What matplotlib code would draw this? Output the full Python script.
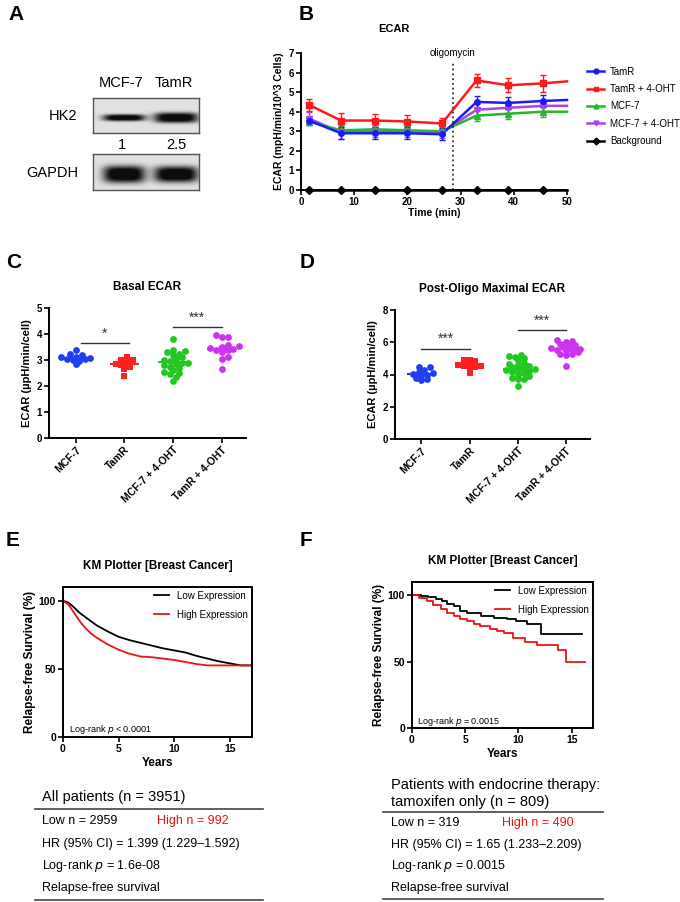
# multi-panel figure: blot, ECAR time course, ECAR scatter, KM curves
import numpy as np
import matplotlib.pyplot as plt
from matplotlib.lines import Line2D

plt.rcParams['font.family'] = ['Liberation Sans', 'DejaVu Sans']

W, H = 680, 902

# ---- A: western blot
blot_lanes = ['MCF-7', 'TamR']
hk2_quant = [1, 2.5]

# ---- B: ECAR time course
time_min = [1.5, 7.5, 14, 20, 26.5, 33, 39, 45.5]
ecar_tamr = [3.55, 2.9, 2.9, 2.9, 2.85, 4.5, 4.45, 4.55]
ecar_tamr_err = [0.15, 0.3, 0.3, 0.3, 0.3, 0.3, 0.3, 0.3]
ecar_tamr_oht = [4.35, 3.55, 3.55, 3.5, 3.4, 5.6, 5.35, 5.45]
ecar_tamr_oht_err = [0.3, 0.4, 0.35, 0.35, 0.3, 0.35, 0.35, 0.45]
ecar_mcf7 = [3.5, 3.05, 3.1, 3.05, 3.0, 3.8, 3.9, 4.0]
ecar_mcf7_err = [0.2, 0.2, 0.2, 0.2, 0.2, 0.25, 0.25, 0.25]
ecar_mcf7_oht = [3.65, 2.95, 3.0, 3.0, 2.95, 4.1, 4.2, 4.3]
ecar_mcf7_oht_err = [0.35, 0.35, 0.3, 0.3, 0.3, 0.3, 0.3, 0.3]
ecar_bg = [0, 0, 0, 0, 0, 0, 0, 0]
ecar_end = {'TamR': 4.6, 'TamR + 4-OHT': 5.55, 'MCF-7': 4.0, 'MCF-7 + 4-OHT': 4.3, 'Background': 0}
oligo_time = 28.5

# ---- C / D: scatter
groups = ['MCF-7', 'TamR', 'MCF-7 + 4-OHT', 'TamR + 4-OHT']
basal_mcf7 = [3.4, 3.22, 3.18, 3.1, 3.08, 3.05, 3.0, 2.97, 2.85, 3.02, 3.12]
basal_tamr = [3.1, 3.0, 3.0, 2.9, 2.85, 2.8, 2.75, 2.65, 2.4]
basal_mcf7_oht = [3.8, 3.4, 3.35, 3.3, 3.25, 3.2, 3.1, 3.05, 3.0, 2.95, 2.9,
                  2.85, 2.8, 2.75, 2.7, 2.6, 2.55, 2.5, 2.45, 2.35, 2.2, 2.9]
basal_tamr_oht = [3.95, 3.9, 3.9, 3.58, 3.52, 3.5, 3.46, 3.44, 3.4, 3.38,
                  3.3, 3.1, 3.05, 2.65]
max_mcf7 = [4.45, 4.45, 4.3, 4.15, 4.1, 4.05, 4.0, 3.95, 3.8, 3.7, 3.65]
max_tamr = [4.9, 4.9, 4.85, 4.7, 4.65, 4.6, 4.55, 4.5, 4.45, 4.45, 4.1]
max_mcf7_oht = [5.2, 5.15, 5.1, 5.0, 4.9, 4.7, 4.65, 4.6, 4.5, 4.45, 4.4, 4.35,
                4.3, 4.25, 4.2, 4.15, 4.1, 4.0, 3.9, 3.8, 3.75, 3.7, 3.3]
max_tamr_oht = [6.15, 6.05, 6.0, 5.9, 5.8, 5.75, 5.7, 5.65, 5.6, 5.55, 5.5, 5.5,
                5.4, 5.3, 5.25, 5.2, 4.55]
basal_sig = [(0.1, 1.1, 3.65, '*'), (2, 3, 4.27, '***')]
max_sig = [(0, 1, 5.6, '***'), (2, 3, 6.75, '***')]

# ---- E / F: KM
e_time = [0, 0.5, 1, 1.5, 2, 2.5, 3, 4, 5, 6, 7, 8, 9, 10, 11, 12, 13, 14, 15, 16, 17]
e_low = [100, 98.5, 95, 91, 88, 85, 82, 77.5, 73.5, 71, 69, 67, 65, 63.5, 62, 59.5,
         57.5, 55.5, 54, 52.5, 52.5]
e_high = [100, 97, 91, 85, 80, 76, 73, 68, 64, 61, 59, 58.5, 57.5, 56.5, 55, 53.5,
          52.5, 52.5, 52.5, 52.5, 52.5]
f_low_t = [0, 0.8, 1.5, 2.3, 2.8, 3.3, 3.9, 4.5, 5.2, 6.5, 7.7, 8.9, 9.8, 10.8, 12.1, 16]
f_low = [100, 99.3, 98.5, 97, 95.5, 93.5, 92, 88.5, 86.5, 84.5, 83, 82, 80.5, 78, 71, 71]
f_high_t = [0, 0.7, 1.4, 2.0, 2.7, 3.3, 3.9, 4.5, 5.2, 5.8, 6.4, 7.3, 8.0, 8.6, 9.5,
            10.6, 11.7, 13.75, 14.5, 16.25]
f_high = [100, 98, 95.5, 92.5, 89.5, 87, 84.5, 82.5, 80.5, 78.5, 76.5, 74.5, 73, 71.5,
          68, 64.5, 62.5, 58.5, 50, 50]

fig = plt.figure(figsize=(W / 100, H / 100), dpi=100)


def add_ax(x0, y0, x1, y1):
    return fig.add_axes([x0 / W, 1 - y1 / H, (x1 - x0) / W, (y1 - y0) / H])


def ftext(x, y, s, **kw):
    fig.text(x / W, 1 - y / H, s, **kw)


def fline(x0, x1, y, lw=1.2):
    fig.add_artist(Line2D([x0 / W, x1 / W], [1 - y / H, 1 - y / H], color='#444444', lw=lw))


# panel letters
for s, x, y in [('A', 8, 14), ('B', 299, 14), ('C', 6, 262), ('D', 300, 262),
                ('E', 6, 540), ('F', 300, 540)]:
    ftext(x, y, s, fontsize=15, fontweight='bold', va='center')

# ---------- A
def blot(ax, thick):
    h, w = 36, 106
    yy, xx = np.mgrid[0:h, 0:w]
    img = np.full((h, w), 0.88)
    for c, bw, t in zip([0.29, 0.78], [42, 44], thick):
        dx = (xx - c * w) / (bw / 2)
        dy = (yy - 0.55 * h) / (t / 2)
        img -= 1.0 * np.exp(-np.abs(dx) ** 4) * np.exp(-np.abs(dy) ** 3)
    ax.imshow(np.clip(img, 0.05, 1), cmap='gray', vmin=0, vmax=1, aspect='auto')
    ax.set_xticks([])
    ax.set_yticks([])
    for sp in ax.spines.values():
        sp.set_color('#555555')
        sp.set_linewidth(1)

ax_hk2 = add_ax(93, 98, 199, 133)
blot(ax_hk2, [4.5 + 2.4 * q for q in hk2_quant])
ax_gap = add_ax(93, 154, 199, 190)
blot(ax_gap, [17, 16])
for lab, x in zip(blot_lanes, [121, 174]):
    ftext(x, 83, lab, fontsize=10.5, ha='center', va='center')
for q, x in zip(hk2_quant, [122, 176]):
    ftext(x, 145, str(q), fontsize=10.5, ha='center', va='center')
ftext(63, 116, 'HK2', fontsize=10.5, ha='center', va='center')
ftext(52, 173, 'GAPDH', fontsize=10.5, ha='center', va='center')

# ---------- B
axb = add_ax(301, 53, 567, 190)
series = [('TamR', ecar_tamr, ecar_tamr_err, '#1a1aff', 'o'),
          ('TamR + 4-OHT', ecar_tamr_oht, ecar_tamr_oht_err, '#ff1a1a', 's'),
          ('MCF-7', ecar_mcf7, ecar_mcf7_err, '#22bb22', '^'),
          ('MCF-7 + 4-OHT', ecar_mcf7_oht, ecar_mcf7_oht_err, '#b040f0', 'v'),
          ('Background', ecar_bg, [0] * 8, 'black', 'D')]
handles = []
for name, y, e, c, m in series[::-1]:
    axb.plot(time_min + [50], y + [ecar_end[name]], color=c, lw=1.8, clip_on=False)
    axb.errorbar(time_min, y, yerr=e, fmt=m, color=c, ms=4, capsize=2.5,
                 elinewidth=1, capthick=1, clip_on=False, zorder=3)
for name, y, e, c, m in series:
    handles.append(Line2D([], [], color=c, marker=m, ms=3.5, lw=1.8, label=name))
axb.axvline(oligo_time, ymin=0, ymax=6.5 / 7, color='#333333', ls=':', lw=1.3)
axb.text(oligo_time, 6.75, 'oligomycin', fontsize=7, ha='center', va='bottom')
axb.set_xlim(0, 50)
axb.set_ylim(0, 7)
axb.set_xticks(range(0, 51, 10))
axb.set_yticks(range(0, 8))
axb.set_xlabel('Time (min)', fontsize=7.5, fontweight='bold', labelpad=1)
axb.set_ylabel('ECAR (mpH/min/10^3 Cells)', fontsize=7.5, fontweight='bold', labelpad=3)
axb.set_title('ECAR', fontsize=8, fontweight='bold', pad=15, x=0.35)
axb.legend(handles=handles, loc='upper left', bbox_to_anchor=(578 / W, 1 - 58 / H),
           bbox_transform=fig.transFigure, frameon=False, fontsize=7,
           handlelength=1.8, labelspacing=0.75, handletextpad=0.6)


def style(ax):
    for sp in ['top', 'right']:
        ax.spines[sp].set_visible(False)
    for sp in ['left', 'bottom']:
        ax.spines[sp].set_linewidth(1.4)
    ax.tick_params(width=1.2, length=3.5, labelsize=7, pad=1.5)
    for t in ax.get_xticklabels() + ax.get_yticklabels():
        t.set_fontweight('bold')

style(axb)


# ---------- C / D
def swarm(vals, xpx, ypx, d=4.2):
    # greedy beeswarm in pixel space
    vals = np.asarray(vals, dtype=float)
    order = np.argsort(vals)
    placed = []
    offs = np.zeros(len(vals))
    for i in order:
        y = vals[i] * ypx
        for k in range(0, 40):
            cand = (k + 1) // 2 * (1 if k % 2 else -1) * d * 0.7
            if all((cand - px) ** 2 + (y - py) ** 2 >= d * d for px, py in placed):
                break
        placed.append((cand, y))
        offs[i] = cand / xpx
    return offs


cols = ['#1f3ff0', '#ff2020', '#20c820', '#cc33ee']
marks = ['o', 's', 'o', 'o']


def scatter_panel(ax, data, ypx, sig, ymax, ystep, title):
    for i, vals in enumerate(data):
        x = i + swarm(vals, 48.7, ypx)
        ax.scatter(x, vals, s=24, marker=marks[i], color=cols[i], zorder=3, lw=0)
        m = np.mean(vals)
        sem = np.std(vals) / np.sqrt(len(vals))
        ax.hlines(m, i - 0.3, i + 0.3, color=cols[i], lw=1.5, zorder=4)
        ax.errorbar(i, m, yerr=sem, color=cols[i], capsize=3, lw=1, zorder=4)
    for x0, x1, y, s in sig:
        ax.plot([x0, x1], [y, y], color='#333333', lw=1)
        ax.text((x0 + x1) / 2, y + ymax * 0.02, s, ha='center', va='bottom', fontsize=10,
                color='#333333')
    ax.set_xlim(-0.55, 3.5)
    ax.set_ylim(0, ymax)
    ax.set_yticks(np.arange(0, ymax + 0.1, ystep))
    ax.set_xticks(range(4))
    ax.set_xticklabels(groups, rotation=45, ha='right', rotation_mode='anchor')
    ax.set_ylabel('ECAR (\u00b5pH/min/cell)', fontsize=8, fontweight='bold', labelpad=3)
    ax.set_title(title, fontsize=8.5, fontweight='bold', pad=13)
    style(ax)
    ax.tick_params(axis='x', labelsize=7.5)


axc = add_ax(49, 308, 246, 438)
scatter_panel(axc, [basal_mcf7, basal_tamr, basal_mcf7_oht, basal_tamr_oht],
              26, basal_sig, 5, 1, 'Basal ECAR')
axd = add_ax(395, 310, 590, 439)
scatter_panel(axd, [max_mcf7, max_tamr, max_mcf7_oht, max_tamr_oht],
              16.1, max_sig, 8, 2, 'Post-Oligo Maximal ECAR')


# ---------- E / F
def km_panel(ax, ptxt):
    ax.set_xlim(0, 17)
    ax.set_ylim(0, 110)
    ax.set_xticks([0, 5, 10, 15])
    ax.set_yticks([0, 50, 100])
    for sp in ax.spines.values():
        sp.set_linewidth(1.4)
    ax.tick_params(width=1.2, length=3.5, labelsize=7.5, pad=1.5)
    for t in ax.get_xticklabels() + ax.get_yticklabels():
        t.set_fontweight('bold')
    ax.set_xlabel('Years', fontsize=8.5, fontweight='bold', labelpad=2)
    ax.set_ylabel('Relapse-free Survival (%)', fontsize=8.5, fontweight='bold', labelpad=2)
    ax.set_title('KM Plotter [Breast Cancer]', fontsize=8.5, fontweight='bold', pad=13)
    ax.legend(loc='upper right', frameon=False, fontsize=7, handlelength=1.6,
              labelspacing=0.9, borderaxespad=0.1, borderpad=0.3)
    ax.text(0.03, 0.03, ptxt, transform=ax.transAxes, fontsize=6.5)


axe = add_ax(63, 587, 252, 737)
axe.plot(e_time, e_low, color='black', lw=1.3, label='Low Expression')
axe.plot(e_time, e_high, color='#ee1111', lw=1.3, label='High Expression')
km_panel(axe, 'Log-rank $p$ < 0.0001')

axf = add_ax(412, 582, 593, 728)
axf.step(f_low_t, f_low, where='post', color='black', lw=1.3, label='Low Expression')
axf.step(f_high_t, f_high, where='post', color='#ee1111', lw=1.3, label='High Expression')
km_panel(axf, 'Log-rank $p$ = 0.0015')

# ---------- tables
ftext(42, 797, 'All patients (n = 3951)', fontsize=10.5, va='center')
fline(35, 263, 809)
ftext(42, 821, 'Low n = 2959', fontsize=9, va='center')
ftext(157, 821, 'High n = 992', fontsize=9, va='center', color='#ee1111')
ftext(42, 844, 'HR (95% CI) = 1.399 (1.229\u20131.592)', fontsize=9, va='center')
ftext(42, 866, 'Log-rank $p$ = 1.6e-08', fontsize=9, va='center')
ftext(42, 888, 'Relapse-free survival', fontsize=9, va='center')
fline(35, 263, 900)

ftext(391, 785, 'Patients with endocrine therapy:', fontsize=10.5, va='center')
ftext(391, 802, 'tamoxifen only (n = 809)', fontsize=10.5, va='center')
fline(383, 603, 812)
ftext(391, 823, 'Low n = 319', fontsize=9, va='center')
ftext(502, 823, 'High n = 490', fontsize=9, va='center', color='#ee1111')
ftext(391, 845, 'HR (95% CI) = 1.65 (1.233\u20132.209)', fontsize=9, va='center')
ftext(391, 866, 'Log-rank $p$ = 0.0015', fontsize=9, va='center')
ftext(391, 888, 'Relapse-free survival', fontsize=9, va='center')
fline(383, 603, 899)

fig.savefig('out.png', dpi=100)
